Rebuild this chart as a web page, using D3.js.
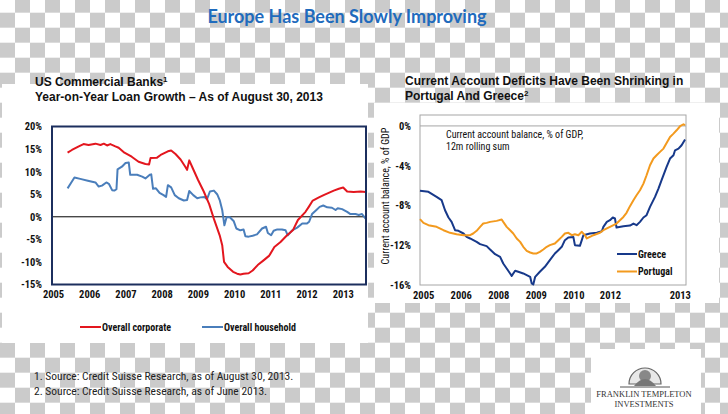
<!DOCTYPE html>
<html><head><meta charset="utf-8">
<script src="https://cdn.jsdelivr.net/npm/d3@7"></script>
<style>body{margin:0;background:#fff;} svg{display:block;}</style>
</head><body>
<svg id="c" width="728" height="414"></svg>
<script>
// ---------- DATA ----------
const mainTitle = "Europe Has Been Slowly Improving";
const leftTitle = ["US Commercial Banks", "Year-on-Year Loan Growth \u2013 As of August 30, 2013"];
const rightTitle = ["Current Account Deficits Have Been Shrinking in", "Portugal And Greece"];

const leftYears = [2005, 2006, 2007, 2008, 2009, 2010, 2011, 2012, 2013];
const leftYTicks = [20, 15, 10, 5, 0, -5, -10, -15];

const corpDates = [2005.43,2005.55,2005.74,2005.87,2006.01,2006.2,2006.34,2006.43,2006.52,2006.61,2006.75,2006.84,2007.0,2007.2,2007.39,2007.58,2007.68,2007.72,2007.9,2008.0,2008.1,2008.2,2008.29,2008.41,2008.55,2008.68,2008.73,2008.79,2008.89,2009.03,2009.19,2009.34,2009.48,2009.63,2009.7,2009.75,2009.85,2010.0,2010.11,2010.2,2010.29,2010.43,2010.54,2010.68,2010.85,2011.0,2011.14,2011.31,2011.49,2011.65,2011.79,2012.0,2012.09,2012.2,2012.37,2012.5,2012.64,2012.78,2012.92,2013.04,2013.15,2013.33,2013.52,2013.66];
const corpValues = [14.2,14.8,15.6,16.1,15.9,16.2,15.9,16.2,15.8,16.1,15.6,15.3,14.2,13.3,12.2,11.7,11.6,13.0,13.1,13.7,14.1,14.5,14.7,13.9,12.7,11.1,10.4,12.5,10.7,8.2,5.6,2.8,-0.7,-4.1,-6.3,-10.0,-11.1,-12.2,-12.6,-12.8,-12.6,-12.5,-11.9,-10.7,-9.6,-8.6,-6.7,-5.6,-4.1,-3.0,-0.7,1.1,2.2,3.6,4.3,4.8,5.3,5.8,6.2,6.5,5.6,5.5,5.6,5.5];

const houseDates = [2005.43,2005.55,2005.62,2005.78,2005.99,2006.2,2006.29,2006.38,2006.5,2006.57,2006.66,2006.72,2006.78,2006.81,2006.93,2007.03,2007.12,2007.16,2007.35,2007.49,2007.58,2007.7,2007.74,2007.79,2007.87,2007.97,2008.08,2008.15,2008.2,2008.29,2008.39,2008.5,2008.64,2008.73,2008.79,2008.9,2009.01,2009.1,2009.21,2009.28,2009.36,2009.47,2009.56,2009.63,2009.7,2009.76,2009.82,2009.91,2010.02,2010.09,2010.2,2010.29,2010.34,2010.43,2010.54,2010.66,2010.8,2010.91,2010.96,2011.05,2011.12,2011.22,2011.35,2011.45,2011.51,2011.63,2011.77,2011.91,2012.04,2012.1,2012.18,2012.3,2012.39,2012.49,2012.6,2012.73,2012.83,2012.89,2013.01,2013.15,2013.24,2013.38,2013.47,2013.56,2013.66];
const houseValues = [6.3,7.8,8.7,8.4,8.0,7.6,6.7,6.9,7.6,7.3,5.9,5.8,6.1,10.5,11.1,11.9,12.0,9.3,9.3,8.9,8.5,9.3,9.4,6.2,6.3,5.3,4.8,4.4,7.0,6.5,4.8,4.1,3.6,3.7,5.7,4.8,4.1,4.3,4.4,3.9,5.6,5.8,5.0,3.7,1.5,-1.9,-0.1,-0.1,-1.0,-2.6,-3.0,-2.8,-4.3,-4.4,-4.2,-3.9,-2.6,-2.2,-3.6,-4.1,-3.1,-2.8,-2.8,-3.0,-4.1,-3.0,-2.4,-1.5,-1.5,-1.1,0.6,1.5,2.2,2.5,2.1,2.0,1.5,1.9,1.7,1.1,0.6,0.6,0.4,0.6,-0.4];

const leftSeriesNames = ["Overall corporate", "Overall household"];

const rightTickPos = [2005.1, 2006.3, 2007.5, 2008.7, 2009.9, 2011.07, 2013.3];
const rightTickLabels = ["2005", "2006", "2008", "2009", "2010", "2012", "2013"];
const rightYTicks = [0, -4, -8, -12, -16];

const greeceDates = [2005.00,2005.27,2005.53,2005.69,2005.80,2005.91,2006.01,2006.12,2006.23,2006.39,2006.49,2006.60,2006.81,2006.92,2007.13,2007.24,2007.40,2007.56,2007.66,2007.77,2007.88,2007.93,2008.04,2008.14,2008.30,2008.41,2008.52,2008.57,2008.62,2008.68,2008.83,2008.99,2009.15,2009.31,2009.42,2009.53,2009.63,2009.74,2009.90,2009.95,2010.11,2010.17,2010.22,2010.43,2010.65,2010.81,2010.86,2010.97,2011.07,2011.16,2011.23,2011.28,2011.50,2011.71,2011.82,2011.92,2012.03,2012.14,2012.24,2012.35,2012.51,2012.62,2012.72,2012.88,2012.99,2013.10,2013.15,2013.26,2013.36,2013.47];
const greeceValues = [-6.53,-6.63,-7.14,-7.47,-8.48,-9.21,-9.65,-10.49,-10.55,-10.82,-11.16,-11.32,-11.66,-11.89,-12.09,-12.43,-12.90,-13.17,-13.84,-14.34,-14.84,-15.08,-14.57,-14.67,-14.84,-15.01,-15.18,-15.85,-15.95,-15.18,-14.67,-14.17,-13.50,-12.83,-12.50,-12.16,-11.49,-11.22,-11.16,-11.99,-12.06,-11.49,-10.99,-10.82,-10.75,-10.59,-10.15,-9.65,-9.48,-9.21,-9.31,-10.22,-10.08,-10.02,-9.82,-9.98,-9.65,-9.21,-8.98,-8.14,-7.14,-6.30,-5.46,-4.12,-3.28,-2.95,-2.45,-2.28,-1.94,-1.37];

const portugalDates = [2005.00,2005.11,2005.27,2005.53,2005.75,2005.96,2006.17,2006.39,2006.60,2006.70,2006.81,2006.92,2007.02,2007.13,2007.24,2007.45,2007.61,2007.66,2007.77,2007.88,2007.98,2008.09,2008.20,2008.30,2008.41,2008.52,2008.62,2008.73,2008.83,2008.94,2009.05,2009.15,2009.31,2009.42,2009.53,2009.63,2009.74,2009.85,2009.95,2010.06,2010.17,2010.27,2010.33,2010.43,2010.54,2010.75,2010.86,2011.07,2011.28,2011.39,2011.50,2011.60,2011.71,2011.82,2011.92,2012.03,2012.14,2012.24,2012.35,2012.46,2012.56,2012.67,2012.78,2012.88,2012.99,2013.10,2013.20,2013.31,2013.42,2013.47];
const portugalValues = [-9.38,-9.75,-9.98,-10.15,-10.49,-10.75,-10.89,-10.99,-10.99,-10.82,-10.55,-10.15,-9.82,-9.75,-9.65,-9.55,-9.41,-9.65,-10.15,-10.49,-10.82,-11.32,-11.66,-12.16,-12.56,-12.73,-12.83,-12.83,-12.66,-12.43,-12.16,-11.99,-11.83,-11.49,-11.16,-10.82,-10.75,-10.99,-10.89,-10.99,-10.65,-10.99,-11.32,-11.16,-10.99,-10.75,-10.49,-10.15,-9.82,-9.48,-9.15,-8.74,-8.07,-7.47,-6.97,-6.47,-5.80,-4.96,-3.95,-3.28,-2.95,-2.61,-2.28,-1.71,-1.11,-0.77,-0.44,-0.03,0.17,0.07];

const rightSeriesNames = ["Greece", "Portugal"];
const rightNote = ["Current account balance, % of GDP,", "12m rolling sum"];
const rightYLabel = "Current account balance, % of GDP";
const footnotes = ["1. Source: Credit Suisse Research,  as of August 30, 2013.", "2. Source: Credit Suisse Research, as of  June 2013."];
const logoText = ["FRANKLIN TEMPLETON", "INVESTMENTS"];

// ---------- DRAW ----------
const NARROW = '"Liberation Sans Narrow","Arial Narrow","Roboto Condensed",sans-serif';
const ARIAL = '"Liberation Sans",Arial,sans-serif';
const svg = d3.select("#c");

// checkerboard background
const defs = svg.append("defs");
const pat = defs.append("pattern").attr("id", "chk").attr("patternUnits", "userSpaceOnUse")
  .attr("width", 30).attr("height", 30).attr("x", 0).attr("y", -2.3);
pat.append("rect").attr("width", 30).attr("height", 30).attr("fill", "#ffffff");
pat.append("rect").attr("x", 15).attr("y", 0).attr("width", 15).attr("height", 15).attr("fill", "#cbcbcb");
pat.append("rect").attr("x", 0).attr("y", 15).attr("width", 15).attr("height", 15).attr("fill", "#cbcbcb");
svg.append("rect").attr("width", 728).attr("height", 414).attr("fill", "url(#chk)");

// white panels
svg.append("rect").attr("x", 2).attr("y", 84).attr("width", 366).attr("height", 259).attr("fill", "#fff");
svg.append("rect").attr("x", 374).attr("y", 103).attr("width", 345).attr("height", 200).attr("fill", "#fff");
svg.append("rect").attr("x", 591).attr("y", 349).attr("width", 110).attr("height", 65).attr("fill", "#fff");

// main title
svg.append("text").attr("x", 347).attr("y", 23).attr("text-anchor", "middle")
  .attr("font-family", 'Lato,"Open Sans",sans-serif').attr("font-weight", "bold").attr("font-size", 18)
  .attr("fill", "#1f6bbd").text(mainTitle);

// ---------- LEFT CHART ----------
const lt = svg.append("text").attr("font-family", ARIAL).attr("font-weight", "bold").attr("font-size", 12).attr("fill", "#111");
lt.append("tspan").attr("x", 35).attr("y", 86).text(leftTitle[0]).append("tspan").attr("font-size", 8).attr("dy", -4).text("1");
svg.append("text").attr("font-family", ARIAL).attr("font-weight", "bold").attr("font-size", 12).attr("fill", "#111")
  .attr("x", 35).attr("y", 101).text(leftTitle[1]);

const xL = d3.scaleLinear().domain([2005, 2013.67]).range([52, 366]);
const yL = d3.scaleLinear().domain([-15, 20]).range([284.5, 126.5]);

// zero line
svg.append("line").attr("x1", xL.range()[0]).attr("x2", xL.range()[1]).attr("y1", yL(0)).attr("y2", yL(0))
  .attr("stroke", "#000").attr("stroke-width", 1);

const lineL = d3.line().x(d => xL(d[0])).y(d => yL(d[1]));
svg.append("path").datum(d3.zip(houseDates, houseValues)).attr("d", lineL)
  .attr("fill", "none").attr("stroke", "#4a7ebb").attr("stroke-width", 2).attr("stroke-linejoin", "round");
svg.append("path").datum(d3.zip(corpDates, corpValues)).attr("d", lineL)
  .attr("fill", "none").attr("stroke", "#e3161e").attr("stroke-width", 2).attr("stroke-linejoin", "round");

// frame
svg.append("rect").attr("x", xL.range()[0]).attr("y", yL.range()[1])
  .attr("width", xL.range()[1] - xL.range()[0]).attr("height", yL.range()[0] - yL.range()[1])
  .attr("fill", "none").attr("stroke", "#1c2f5e").attr("stroke-width", 2);

// axes
const axL = svg.append("g").attr("transform", `translate(${xL.range()[0] - 10},0)`)
  .call(d3.axisLeft(yL).tickValues(leftYTicks).tickSize(0).tickPadding(0).tickFormat(d => d + "%"));
axL.select(".domain").remove();
const axB = svg.append("g").attr("transform", `translate(1,${yL.range()[0] + 6})`)
  .call(d3.axisBottom(xL).tickValues(leftYears).tickSize(0).tickPadding(0).tickFormat(d3.format("d")));
axB.select(".domain").remove();
[axL, axB].forEach(a => a.selectAll("text").attr("font-family", NARROW).attr("font-weight", "bold")
  .attr("font-size", 10.5).attr("fill", "#111"));

// legend
const legL = [[80, "#e3161e"], [202, "#4a7ebb"]];
leftSeriesNames.forEach((n, i) => {
  const g = svg.append("g").attr("transform", `translate(${legL[i][0]},327)`);
  g.append("line").attr("x1", 0).attr("x2", 21).attr("stroke", legL[i][1]).attr("stroke-width", 2);
  g.append("text").attr("x", 22).attr("y", 3.5).attr("font-family", NARROW).attr("font-weight", "bold")
    .attr("font-size", 10).attr("fill", "#111").text(n);
});

// ---------- RIGHT CHART ----------
const rt = svg.append("text").attr("font-family", ARIAL).attr("font-weight", "bold").attr("font-size", 12).attr("fill", "#111");
rt.append("tspan").attr("x", 405).attr("y", 85).text(rightTitle[0]);
const rt2 = svg.append("text").attr("font-family", ARIAL).attr("font-weight", "bold").attr("font-size", 12).attr("fill", "#111");
rt2.append("tspan").attr("x", 405).attr("y", 100).text(rightTitle[1]).append("tspan").attr("font-size", 8).attr("dy", -4).text("2");

const xR = d3.scaleLinear().domain([2005, 2013.5]).range([420, 686]);
const yR = d3.scaleLinear().domain([-16, 1.1]).range([285, 115]);

svg.append("rect").attr("x", xR.range()[0]).attr("y", yR.range()[1])
  .attr("width", xR.range()[1] - xR.range()[0]).attr("height", yR.range()[0] - yR.range()[1])
  .attr("fill", "none").attr("stroke", "#a6a6a6").attr("stroke-width", 1);
svg.append("line").attr("x1", xR.range()[0]).attr("x2", xR.range()[1]).attr("y1", yR(0)).attr("y2", yR(0))
  .attr("stroke", "#a6a6a6").attr("stroke-width", 1);

const lineR = d3.line().x(d => xR(d[0])).y(d => yR(d[1]));
svg.append("path").datum(d3.zip(greeceDates, greeceValues)).attr("d", lineR)
  .attr("fill", "none").attr("stroke", "#17398a").attr("stroke-width", 2).attr("stroke-linejoin", "round");
svg.append("path").datum(d3.zip(portugalDates, portugalValues)).attr("d", lineR)
  .attr("fill", "none").attr("stroke", "#f39a1e").attr("stroke-width", 2).attr("stroke-linejoin", "round");

const axRL = svg.append("g").attr("transform", `translate(${xR.range()[0] - 9},0)`)
  .call(d3.axisLeft(yR).tickValues(rightYTicks).tickSize(0).tickPadding(0).tickFormat(d => d + "%"));
axRL.select(".domain").remove();
const axRB = svg.append("g").attr("transform", `translate(0,${yR.range()[0] + 7})`)
  .call(d3.axisBottom(xR).tickValues(rightTickPos).tickSize(0).tickPadding(0).tickFormat((d, i) => rightTickLabels[i]));
axRB.select(".domain").remove();
[axRL, axRB].forEach(a => a.selectAll("text").attr("font-family", NARROW).attr("font-weight", "bold")
  .attr("font-size", 10.5).attr("fill", "#111"));

svg.append("text").attr("transform", "translate(389,196) rotate(-90)").attr("text-anchor", "middle")
  .attr("font-family", NARROW).attr("font-size", 10).attr("fill", "#111").text(rightYLabel);

rightNote.forEach((t, i) => svg.append("text").attr("x", 446).attr("y", 138 + i * 12)
  .attr("font-family", NARROW).attr("font-size", 10).attr("fill", "#111").text(t));

const legR = [[254, "#17398a"], [271.5, "#f39a1e"]];
rightSeriesNames.forEach((n, i) => {
  const g = svg.append("g").attr("transform", `translate(617,${legR[i][0]})`);
  g.append("line").attr("x1", 0).attr("x2", 20).attr("stroke", legR[i][1]).attr("stroke-width", 2);
  g.append("text").attr("x", 21).attr("y", 3.5).attr("font-family", NARROW).attr("font-weight", "bold")
    .attr("font-size", 10).attr("fill", "#111").text(n);
});

// ---------- FOOTNOTES ----------
footnotes.forEach((t, i) => svg.append("text").attr("x", 34).attr("y", 380 + i * 15)
  .attr("font-family", NARROW).attr("font-size", 11.5).attr("fill", "#222").text(t));

// ---------- LOGO ----------
const lg = svg.append("g");
lg.append("path").attr("d", "M629,384 A16,16 0 0 1 661,384 Z").attr("fill", "#e8e8e8").attr("stroke", "#666").attr("stroke-width", 1.2);
lg.append("circle").attr("cx", 645).attr("cy", 376).attr("r", 6).attr("fill", "#888");
lg.append("path").attr("d", "M634,386 Q645,372 656,386 Z").attr("fill", "#777");
lg.append("line").attr("x1", 620).attr("x2", 670).attr("y1", 387).attr("y2", 387).attr("stroke", "#555").attr("stroke-width", 1);
logoText.forEach((t, i) => lg.append("text").attr("x", 644).attr("y", 397 + i * 10).attr("text-anchor", "middle")
  .attr("font-family", '"Liberation Serif","DejaVu Serif",serif').attr("font-size", 8.5).attr("fill", "#333").text(t));
</script>
</body></html>
